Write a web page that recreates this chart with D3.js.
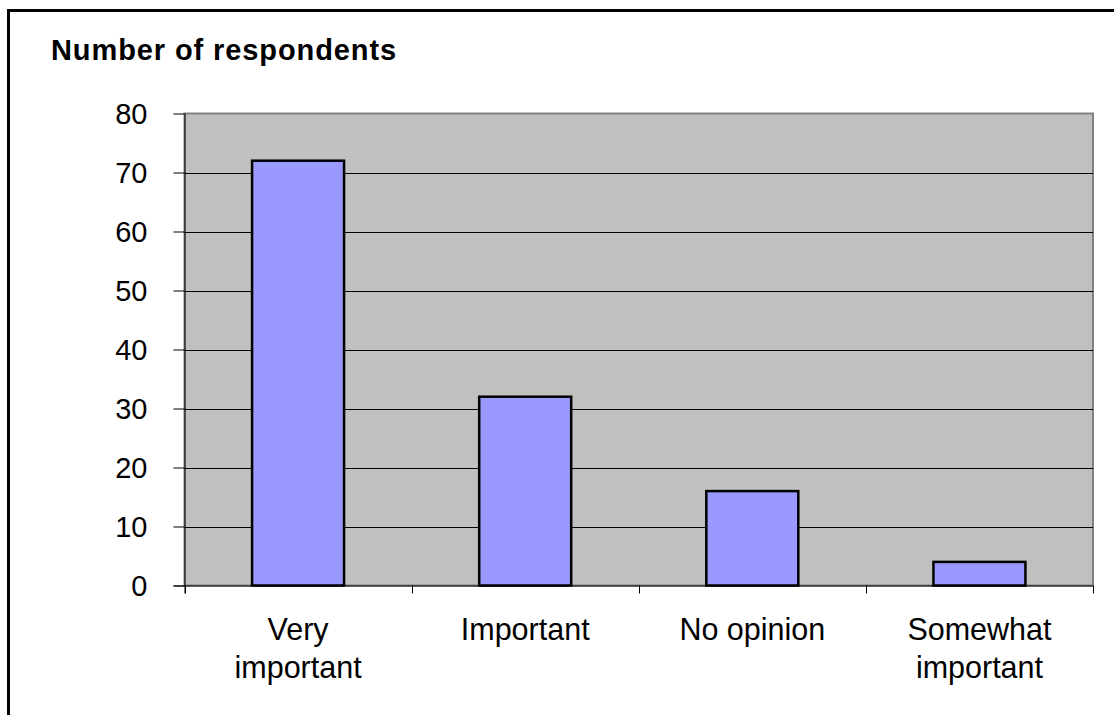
<!DOCTYPE html>
<html>
<head>
<meta charset="utf-8">
<script src="https://cdn.jsdelivr.net/npm/d3@7"></script>
<style>
  html, body { margin: 0; padding: 0; background: #fff; }
  svg { display: block; font-family: "Liberation Sans", Arial, sans-serif; }
</style>
</head>
<body>
<svg id="chart" width="1114" height="715"></svg>
<script>
const categories = [["Very", "important"], ["Important"], ["No opinion"], ["Somewhat", "important"]];
const values = [72, 32, 16, 4];
const yTicks = [0, 10, 20, 30, 40, 50, 60, 70, 80];
const title = "Number of respondents";

(function () {
const svg = d3.select("#chart");
const pL = 184.5, pR = 1093, pT = 113.5, pB = 585.5;

// outer frame
svg.append("rect").attr("x", 8.5).attr("y", 10.5).attr("width", 1120).attr("height", 720)
  .attr("fill", "#fff").attr("stroke", "#000").attr("stroke-width", 3);

svg.append("text").attr("x", 51).attr("y", 60)
  .attr("font-size", 29).attr("font-weight", "bold").attr("fill", "#000")
  .attr("letter-spacing", 0.9)
  .text(title);

const x = d3.scaleBand().domain(d3.range(categories.length)).range([pL, pR]).paddingInner(0).paddingOuter(0);
const y = d3.scaleLinear().domain([0, 80]).range([pB, pT]);

// plot background
svg.append("rect").attr("x", pL).attr("y", pT).attr("width", pR - pL).attr("height", pB - pT)
  .attr("fill", "#c0c0c0").attr("stroke", "#808080").attr("stroke-width", 2);

// gridlines
svg.append("g").selectAll("line").data(yTicks.filter(d => d > 0 && d < 80)).join("line")
  .attr("x1", pL).attr("x2", pR)
  .attr("y1", d => Math.round(y(d)) + 0.5).attr("y2", d => Math.round(y(d)) + 0.5)
  .attr("stroke", "#000").attr("stroke-width", 1);

// bars
const bw = x.bandwidth() * 0.405;
svg.append("g").selectAll("rect").data(values).join("rect")
  .attr("x", (d, i) => x(i) + x.bandwidth() / 2 - bw / 2)
  .attr("y", d => y(d))
  .attr("width", bw)
  .attr("height", d => pB - y(d))
  .attr("fill", "#9999ff").attr("stroke", "#000").attr("stroke-width", 2.5);

// y axis
const yAxis = d3.axisLeft(y).tickValues(yTicks).tickSize(11).tickPadding(26).tickFormat(d3.format("d"));
const gy = svg.append("g").attr("transform", `translate(${pL},0)`).call(yAxis);
gy.select(".domain").attr("stroke", "#000").attr("d", `M0.5,${pT}V${pB + 8}`);
gy.selectAll(".tick line").attr("stroke", "#000");
gy.selectAll(".tick text").attr("font-size", 29).attr("fill", "#000")
  .attr("font-family", "Liberation Sans, Arial, sans-serif").attr("dy", "0.36em");

// x axis
const gx = svg.append("g");
gx.append("line").attr("x1", pL - 11).attr("x2", pR).attr("y1", pB + 0.5).attr("y2", pB + 0.5).attr("stroke", "#000");
const bounds = d3.range(categories.length + 1).map(i => i < categories.length ? x(i) : pR);
gx.selectAll("line.t").data(bounds).join("line").attr("class", "t")
  .attr("x1", d => Math.round(d) + 0.5).attr("x2", d => Math.round(d) + 0.5)
  .attr("y1", pB).attr("y2", pB + 8).attr("stroke", "#000");

const labels = gx.selectAll("text.c").data(categories).join("text").attr("class", "c")
  .attr("text-anchor", "middle").attr("font-size", 30.5).attr("fill", "#000")
  .attr("transform", (d, i) => `translate(${x(i) + x.bandwidth() / 2},640)`);
labels.selectAll("tspan").data(d => d).join("tspan")
  .attr("x", 0).attr("dy", (d, j) => j === 0 ? 0 : 38).text(d => d);
})();
</script>
</body>
</html>
